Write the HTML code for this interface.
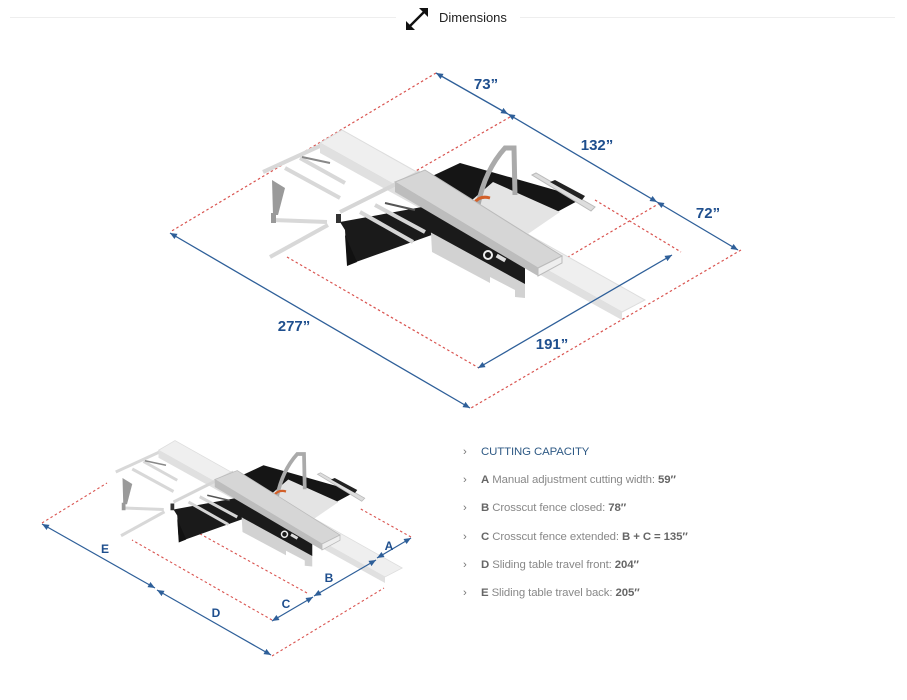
<!DOCTYPE html>
<html><head><meta charset="utf-8"><style>
html,body{margin:0;padding:0;background:#fff;width:907px;height:700px;overflow:hidden;position:relative;font-family:"Liberation Sans",sans-serif}
.hr{position:absolute;left:10px;top:17px;width:885px;height:1px;background:#eeeeee}
.hd{position:absolute;left:396px;top:6px;width:124px;height:24px;background:#fff}
.hd span{position:absolute;left:43px;top:4px;font-size:13px;color:#222}
.list{position:absolute;left:463px;top:2px;font-family:"Liberation Sans",sans-serif;font-size:11.4px;color:#888;letter-spacing:-0.1px}
.list div{position:absolute;white-space:nowrap}
.list i{font-style:normal;color:#777;position:absolute;left:0}
.list span{position:absolute;left:18px}
.list b{color:#666}
</style></head><body>
<div class="hr"></div>
<div class="hd">
<svg width="30" height="30" style="position:absolute;left:6px;top:-2px" viewBox="0 0 30 30">
<line x1="6" y1="24" x2="24" y2="6" stroke="#111" stroke-width="2.4"/>
<polygon points="26,4 26,13 17,4" fill="#111"/>
<polygon points="4,26 4,17 13,26" fill="#111"/>
</svg>
<span>Dimensions</span></div>

<svg width="907" height="700" style="position:absolute;left:0;top:0" viewBox="0 0 907 700">
<defs>
<marker id="ar" markerWidth="8" markerHeight="8" refX="7" refY="4" orient="auto-start-reverse" markerUnits="userSpaceOnUse"><path d="M0,1 L7,4 L0,7 Z" fill="#2e5f99"/></marker>
<g id="m">
 <g stroke="#d8d8d8" stroke-width="4" fill="none">
  <line x1="263" y1="172" x2="322" y2="145"/>
  <line x1="285" y1="168" x2="340" y2="198"/>
  <line x1="300" y1="158" x2="345" y2="183"/>
  <line x1="273" y1="220" x2="327" y2="222"/>
  <line x1="270" y1="257" x2="328" y2="225"/>
 </g>
 <polygon points="272,180 285,188 278,215 273,215" fill="#9a9a9a"/>
 <rect x="271" y="213" width="5" height="10" fill="#999"/>
 <line x1="302" y1="157" x2="330" y2="163" stroke="#888" stroke-width="2"/>
 <polygon points="320,143 342,130 645,300 622,312" fill="#efefef" stroke="#ddd" stroke-width="1"/>
 <polygon points="320,143 622,312 622,320 320,153" fill="#e0e0e0"/>
 <polygon points="340,222 433,205 440,232 356,262 347,262 345,230" fill="#1a1a1a"/>
 <polygon points="345,235 357,262 347,266" fill="#111"/>
 <g stroke="#d6d6d6" stroke-width="4" fill="none">
  <line x1="340" y1="212" x2="420" y2="172"/>
  <line x1="360" y1="212" x2="413" y2="242"/>
  <line x1="375" y1="205" x2="425" y2="232"/>
 </g>
 <line x1="385" y1="203" x2="415" y2="210" stroke="#555" stroke-width="2"/>
 <rect x="336" y="214" width="5" height="9" fill="#333"/>
 <polygon points="430,215 525,268 525,298 515,297 515,290 490,277 490,283 432,252" fill="#d2d2d2"/>
 <polygon points="430,212 525,265 525,284 430,232" fill="#1a1a1a"/>
 <circle cx="488" cy="255" r="4" fill="none" stroke="#eee" stroke-width="2"/>
 <rect x="496" y="256" width="10" height="4" fill="#ddd" transform="rotate(30 501 258)"/>
 <polygon points="428,178 460,163 583,198 557,212 525,232 520,240 440,200" fill="#151515"/>
 <polygon points="472,200 493,182 560,212 525,236 520,240" fill="#e4e4e4"/>
 <path d="M478,205 Q485,170 505,148 L514,148 L515,195" fill="none" stroke="#aaa" stroke-width="5"/>
 <path d="M474,203 Q480,195 490,198" fill="none" stroke="#d2602a" stroke-width="3"/>
 <polygon points="532,175 536,173 595,207 591,211" fill="#ddd" stroke="#bbb" stroke-width="1"/>
 <polygon points="550,182 555,180 585,196 582,200" fill="#222"/>
 <polygon points="395,182 425,170 562,256 538,268" fill="#d6d6d6" stroke="#bbb" stroke-width="1"/>
 <polygon points="395,182 538,268 538,276 395,192" fill="#bdbdbd"/>
 <polygon points="538,268 562,256 562,263 538,276" fill="#eee" stroke="#bbb" stroke-width="1"/>
</g>
</defs>

<g stroke="#d9534f" stroke-width="1.2" stroke-dasharray="2.5,2.5" fill="none">
 <line x1="436" y1="73" x2="170" y2="232"/>
 <line x1="510" y1="117" x2="414" y2="172"/>
 <line x1="287" y1="257" x2="479" y2="368"/>
 <line x1="660" y1="203" x2="568" y2="257"/>
 <line x1="595" y1="200" x2="681" y2="252"/>
 <line x1="741" y1="250" x2="471" y2="408"/>
</g>
<use href="#m"/>
<g stroke="#2e5f99" stroke-width="1.3">
 <line x1="436" y1="73" x2="508" y2="114" marker-start="url(#ar)" marker-end="url(#ar)"/>
 <line x1="508" y1="114" x2="657" y2="202" marker-start="url(#ar)" marker-end="url(#ar)"/>
 <line x1="657" y1="202" x2="738" y2="250" marker-start="url(#ar)" marker-end="url(#ar)"/>
 <line x1="170" y1="233" x2="470" y2="408" marker-start="url(#ar)" marker-end="url(#ar)"/>
 <line x1="478" y1="368" x2="672" y2="255" marker-start="url(#ar)" marker-end="url(#ar)"/>
</g>
<g font-family="Liberation Sans,sans-serif" font-weight="bold" font-size="15" fill="#1f4f8e" text-anchor="middle">
 <text x="486" y="89">73”</text>
 <text x="597" y="150">132”</text>
 <text x="708" y="218">72”</text>
 <text x="294" y="331">277”</text>
 <text x="552" y="349">191”</text>
</g>

<g stroke="#d9534f" stroke-width="1.1" stroke-dasharray="2.5,2.5" fill="none">
 <line x1="42" y1="523" x2="107" y2="483"/>
 <line x1="272" y1="620" x2="132" y2="540"/>
 <line x1="307" y1="593" x2="184" y2="525"/>
 <line x1="411" y1="537" x2="359" y2="508"/>
 <line x1="272" y1="656" x2="384" y2="588"/>
</g>
<use href="#m" transform="translate(-81.5,343) scale(0.75)"/>
<g stroke="#2e5f99" stroke-width="1.2">
 <line x1="42" y1="524" x2="155" y2="588" marker-start="url(#ar)" marker-end="url(#ar)"/>
 <line x1="157" y1="590" x2="271" y2="655" marker-start="url(#ar)" marker-end="url(#ar)"/>
 <line x1="272" y1="621" x2="313" y2="597" marker-start="url(#ar)" marker-end="url(#ar)"/>
 <line x1="314" y1="596" x2="376" y2="560" marker-start="url(#ar)" marker-end="url(#ar)"/>
 <line x1="377" y1="558" x2="411" y2="538" marker-start="url(#ar)" marker-end="url(#ar)"/>
</g>
<g font-family="Liberation Sans,sans-serif" font-weight="bold" font-size="12" fill="#1f4f8e" text-anchor="middle">
 <text x="105" y="553">E</text>
 <text x="216" y="617">D</text>
 <text x="286" y="608">C</text>
 <text x="329" y="582">B</text>
 <text x="389" y="550">A</text>
</g>
</svg>

<div class="list">
 <div style="top:444px"><i>›</i><span style="color:#2f5a85">CUTTING CAPACITY</span></div>
 <div style="top:472px"><i>›</i><span><b>A</b> Manual adjustment cutting width: <b>59″</b></span></div>
 <div style="top:500px"><i>›</i><span><b>B</b> Crosscut fence closed: <b>78″</b></span></div>
 <div style="top:529px"><i>›</i><span><b>C</b> Crosscut fence extended: <b>B + C = 135″</b></span></div>
 <div style="top:557px"><i>›</i><span><b>D</b> Sliding table travel front: <b>204″</b></span></div>
 <div style="top:585px"><i>›</i><span><b>E</b> Sliding table travel back: <b>205″</b></span></div>
</div>
</body></html>
